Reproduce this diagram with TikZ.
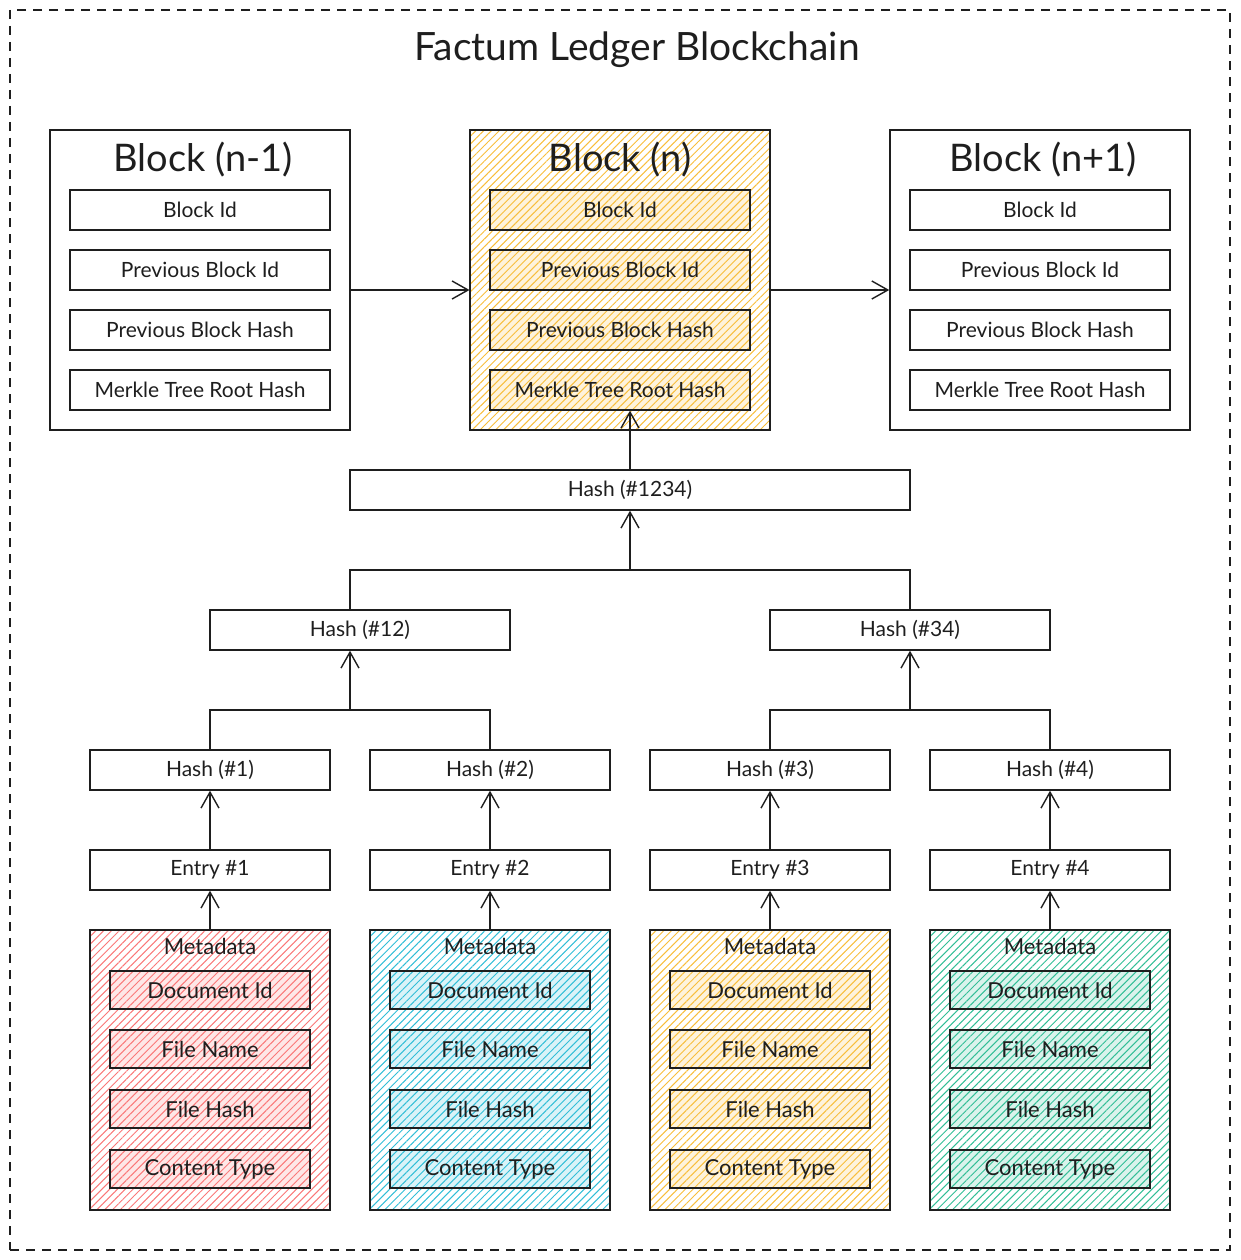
\documentclass[tikz,border=0pt]{standalone}
\usepackage{fontspec}
\setmainfont{Lato}
\usetikzlibrary{arrows.meta,patterns.meta,calc}
\definecolor{ink}{RGB}{30,30,30}
\definecolor{cyel}{RGB}{248,190,60}
\definecolor{cred}{RGB}{250,120,120}
\definecolor{cblue}{RGB}{50,190,215}
\definecolor{cgreen}{RGB}{50,190,150}
\tikzset{
  outerbox/.style={draw=ink,line width=1.5pt,rectangle,inner sep=0pt,minimum width=300pt,minimum height=300pt},
  fieldbox/.style={draw=ink,line width=1.4pt,rectangle,inner sep=0pt,minimum width=#1,minimum height=40pt,font=\fontsize{21}{21}\selectfont,text=ink},
  metabox/.style={draw=ink,line width=1.5pt,rectangle,inner sep=0pt,minimum width=240pt,minimum height=280pt},
  metafield/.style={draw=ink,line width=1.4pt,rectangle,inner sep=0pt,minimum width=200pt,minimum height=38pt,font=\fontsize{22}{22}\selectfont,text=ink},
  hatch/.style={pattern={Lines[angle=45,distance=5.5pt,line width=1pt]},pattern color=#1},
  hatchin/.style={preaction={fill=#1!18},pattern={Lines[angle=45,distance=5.5pt,line width=1pt]},pattern color=#1},
  bigtitle/.style={font=\fontsize{38}{38}\selectfont,text=ink,inner sep=0pt},
  metatitle/.style={font=\fontsize{22}{22}\selectfont,text=ink,inner sep=0pt},
  conn/.style={draw=ink,line width=1.4pt},
  arr/.style={draw=ink,line width=1.4pt,-{Straight Barb[length=16pt,width=18pt,line width=1.4pt]}},
}
\begin{document}
\begin{tikzpicture}[x=1pt,y=-1pt]
\useasboundingbox (0,0) rectangle (1240,1260);
\node[draw=ink,line width=1.2pt,dash pattern=on 9pt off 7pt,minimum width=1220pt,minimum height=1240pt,inner sep=0pt] (frame) at (620,630) {};
\node[font=\fontsize{39}{39}\selectfont,text=ink] (title) at (637,50) {Factum Ledger Blockchain};

% blocks
\node[outerbox] (bA) at (200,280) {};
\node[outerbox,hatch=cyel] (bB) at (620,280) {};
\node[outerbox] (bC) at (1040,280) {};
\node[bigtitle] (tA) at (203,160) {Block (n-1)};
\node[bigtitle] (tB) at (620,160) {Block (n)};
\node[bigtitle] (tC) at (1043,160) {Block (n+1)};

\foreach \c/\x in {A/200,C/1040}{
  \node[fieldbox=260pt] (\c1) at (\x,210) {Block Id};
  \node[fieldbox=260pt] (\c2) at (\x,270) {Previous Block Id};
  \node[fieldbox=260pt] (\c3) at (\x,330) {Previous Block Hash};
  \node[fieldbox=260pt] (\c4) at (\x,390) {Merkle Tree Root Hash};
}
\node[fieldbox=260pt,hatchin=cyel] (B1) at (620,210) {Block Id};
\node[fieldbox=260pt,hatchin=cyel] (B2) at (620,270) {Previous Block Id};
\node[fieldbox=260pt,hatchin=cyel] (B3) at (620,330) {Previous Block Hash};
\node[fieldbox=260pt,hatchin=cyel] (B4) at (620,390) {Merkle Tree Root Hash};

\draw[arr] ([yshift=-10pt]bA.east) -- ([yshift=-10pt]bB.west);
\draw[arr] ([yshift=-10pt]bB.east) -- ([yshift=-10pt]bC.west);

% merkle tree
\node[fieldbox=560pt] (h1234) at (630,490) {Hash (\#1234)};
\node[fieldbox=300pt] (h12) at (360,630) {Hash (\#12)};
\node[fieldbox=280pt] (h34) at (910,630) {Hash (\#34)};
\node[fieldbox=240pt] (h1) at (210,770) {Hash (\#1)};
\node[fieldbox=240pt] (h2) at (490,770) {Hash (\#2)};
\node[fieldbox=240pt] (h3) at (770,770) {Hash (\#3)};
\node[fieldbox=240pt] (h4) at (1050,770) {Hash (\#4)};

\coordinate (j1234) at (630,570);
\coordinate (j12) at (350,710);
\coordinate (j34) at (910,710);

\draw[arr] (h1234.north) -- (h1234.north |- B4.south);
\draw[conn] ([xshift=-10pt]h12.north) |- (j1234) -| (h34.north);
\draw[arr] (j1234) -- (h1234.south);
\draw[conn] (h1.north) |- (j12) -| (h2.north);
\draw[arr] (j12) -- (j12 |- h12.south);
\draw[conn] (h3.north) |- (j34) -| (h4.north);
\draw[arr] (j34) -- (h34.south);

% entries and metadata
\foreach \i/\x/\col in {1/210/cred,2/490/cblue,3/770/cyel,4/1050/cgreen}{
  \node[fieldbox=240pt] (e\i) at (\x,870) {Entry \#\i};
  \node[metabox,hatch=\col] (m\i) at (\x,1070) {};
  \node[metatitle] (mt\i) at (\x,946) {Metadata};
  \node[metafield,hatchin=\col] (md\i) at (\x,990) {Document Id};
  \node[metafield,hatchin=\col] (mn\i) at (\x,1049) {File Name};
  \node[metafield,hatchin=\col] (mh\i) at (\x,1109) {File Hash};
  \node[metafield,hatchin=\col] (mc\i) at (\x,1169) {Content Type};
  \draw[arr] (e\i.north) -- (h\i.south);
  \draw[arr] (m\i.north) -- (e\i.south);
}
\end{tikzpicture}
\end{document}
